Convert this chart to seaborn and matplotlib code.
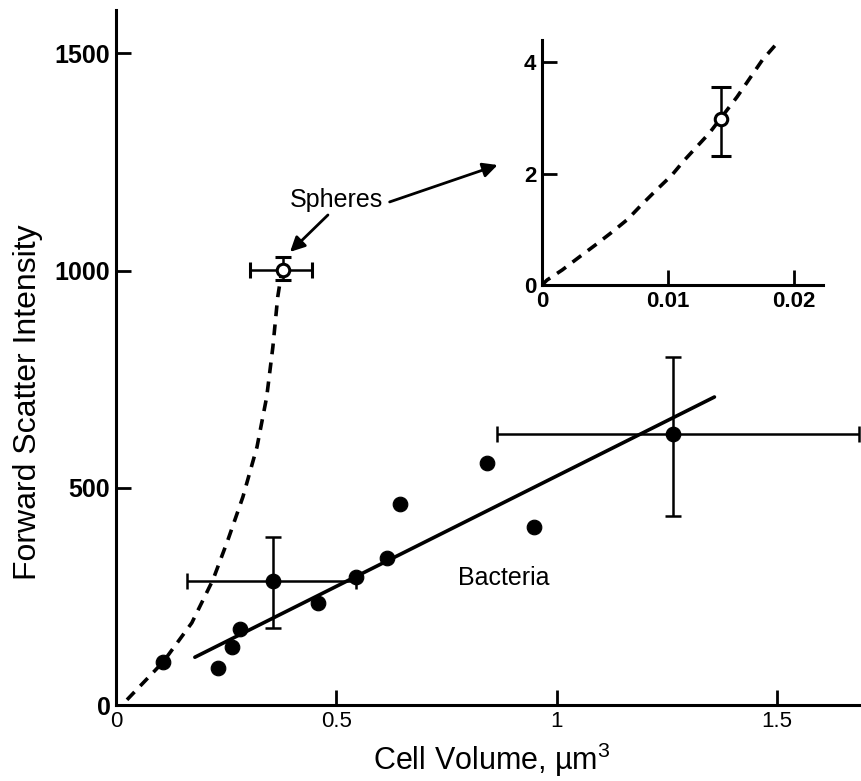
import numpy as np
import seaborn as sns
from matplotlib import pyplot as plt

# bacteria (filled dots)
bact_x = [0.107, 0.231, 0.263, 0.281, 0.356, 0.458, 0.544, 0.615, 0.644, 0.841, 0.948, 1.265]
bact_y = [99, 85, 134, 175, 285, 235, 295, 338, 463, 557, 410, 624]

# bacteria points with error bars: x, y, x err (lo, hi), y err (lo, hi)
err_x = [0.356, 1.265]
err_y = [285, 624]
err_xlo = [0.195, 0.400]
err_xhi = [0.188, 0.420]
err_ylo = [108, 189]
err_yhi = [102, 176]

# straight line fitted to the bacteria
fit_x = [0.179, 1.358]
fit_y = [110, 709]

# spheres: dashed curve + open point
sph_curve_x = [0.025, 0.107, 0.172, 0.220, 0.254, 0.288, 0.320, 0.342, 0.356, 0.367, 0.376]
sph_curve_y = [12, 99, 189, 288, 380, 479, 594, 709, 824, 939, 997]
sph_x = [0.379]
sph_y = [1001]
sph_xlo, sph_xhi = [0.075], [0.065]
sph_ylo, sph_yhi = [22], [31]

# inset
ins_curve_x = [0.0, 0.0004, 0.0016, 0.0030, 0.0043, 0.0055, 0.0068, 0.0079, 0.0091,
               0.0103, 0.0113, 0.0133, 0.0155, 0.0175, 0.0187]
ins_curve_y = [0.0, 0.09, 0.27, 0.51, 0.73, 0.94, 1.18, 1.44, 1.71,
               1.97, 2.24, 2.73, 3.38, 4.04, 4.35]
ins_x = [0.0142]
ins_y = [2.98]
ins_ylo, ins_yhi = [0.66], [0.57]

sns.set_style('ticks')
plt.rcParams['font.family'] = ['Liberation Sans', 'DejaVu Sans']
plt.rcParams['mathtext.fontset'] = 'custom'
plt.rcParams['mathtext.rm'] = 'Liberation Sans'
plt.rcParams['mathtext.it'] = 'Liberation Sans:italic'
for key in ['text.color', 'axes.labelcolor', 'xtick.color', 'ytick.color', 'axes.edgecolor']:
    plt.rcParams[key] = 'black'

fig = plt.figure(figsize=(8.61, 7.81), dpi=100)
ax = fig.add_axes([0.1347, 0.0973, 0.865, 0.890])
ins = fig.add_axes([0.6295, 0.635, 0.326, 0.3137])

# main panel
sns.lineplot(x=fit_x, y=fit_y, ax=ax, color='black', lw=2.6, estimator=None, sort=False)
sns.lineplot(x=sph_curve_x, y=sph_curve_y, ax=ax, color='black', lw=2.6,
             estimator=None, sort=False, linestyle=(0, (3, 2.3)))
ax.errorbar(err_x, err_y, xerr=[err_xlo, err_xhi], yerr=[err_ylo, err_yhi], fmt='none',
            ecolor='black', elinewidth=1.8, capsize=5.5, capthick=1.8, clip_on=False)
sns.scatterplot(x=bact_x, y=bact_y, ax=ax, color='black', s=110, edgecolor='black', zorder=4)
ax.errorbar(sph_x, sph_y, xerr=[sph_xlo, sph_xhi], yerr=[sph_ylo, sph_yhi], fmt='o',
            ms=9, mfc='white', mec='black', mew=2.2, ecolor='black', elinewidth=1.8,
            capsize=5.5, capthick=1.8, zorder=5)

ax.set_xlim(0, 1.69)
ax.set_ylim(0, 1600)
ax.set_xticks([0, 0.5, 1, 1.5])
ax.set_xticklabels(['0', '0.5', '1', '1.5'])
ax.set_yticks([0, 500, 1000, 1500])
ax.tick_params(direction='in', length=11, width=2, pad=4)
ax.tick_params(axis='x', labelsize=16)
ax.tick_params(axis='y', labelsize=18)
for lab in ax.get_yticklabels():
    lab.set_fontweight('bold')
for s in ['left', 'bottom']:
    ax.spines[s].set_linewidth(2.2)
sns.despine(ax=ax)
ax.set_xlabel('Cell Volume, µm$^3$', fontsize=22, labelpad=6)
ax.xaxis.set_label_coords(0.505, -0.052)
ax.set_ylabel('Forward Scatter Intensity', fontsize=23)
ax.yaxis.set_label_coords(-0.098, 0.436)

ax.text(0.775, 292, 'Bacteria', fontsize=18, ha='left', va='center')
ax.text(0.501, 1162, 'Spheres', fontsize=18, ha='center', va='center')
ax.annotate('', xy=(0.395, 1043), xytext=(0.481, 1128),
            arrowprops=dict(arrowstyle='-|>', lw=2, color='black', mutation_scale=22,
                            shrinkA=0, shrinkB=0))
ax.annotate('', xy=(0.866, 1243), xytext=(0.621, 1158),
            arrowprops=dict(arrowstyle='-|>', lw=2, color='black', mutation_scale=22,
                            shrinkA=0, shrinkB=0))

# inset panel
ins.set_facecolor('white')
sns.lineplot(x=ins_curve_x, y=ins_curve_y, ax=ins, color='black', lw=2.6,
             estimator=None, sort=False, linestyle=(0, (3, 2.3)))
ins.errorbar(ins_x, ins_y, yerr=[ins_ylo, ins_yhi], fmt='o', ms=9, mfc='white',
             mec='black', mew=2.2, ecolor='black', elinewidth=1.8, capsize=7,
             capthick=1.8, zorder=5)
ins.set_xlim(0, 0.0223)
ins.set_ylim(0, 4.4)
ins.set_xticks([0, 0.01, 0.02])
ins.set_xticklabels(['0', '0.01', '0.02'])
ins.set_yticks([0, 2, 4])
ins.tick_params(direction='in', length=11, width=2, pad=4, labelsize=16)
for lab in ins.get_yticklabels() + ins.get_xticklabels():
    lab.set_fontweight('bold')
for s in ['left', 'bottom']:
    ins.spines[s].set_linewidth(2.2)
sns.despine(ax=ins)

fig.savefig('out.png', dpi=100)
